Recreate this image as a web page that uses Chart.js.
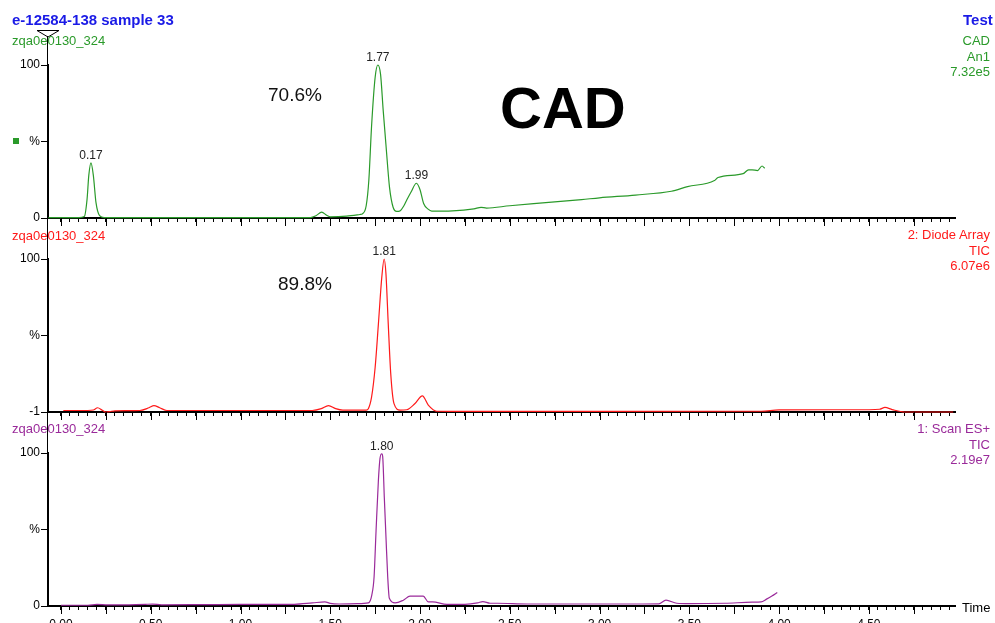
<!DOCTYPE html>
<html>
<head>
<meta charset="utf-8">
<script src="https://cdn.jsdelivr.net/npm/chart.js@4.4.1/dist/chart.umd.min.js"></script>
<style>
html, body { margin: 0; padding: 0; background: #fff; overflow: hidden; }
#wrap { position: relative; width: 995px; height: 623px; overflow: hidden; font-family: "Liberation Sans", Arial, sans-serif; }
canvas { position: absolute; left: 0; }
.t { position: absolute; white-space: nowrap; }
.r { text-align: right; }
</style>
</head>
<body>
<div id="wrap">
  <canvas id="cad" width="995" height="230" style="top:0px"></canvas>
  <canvas id="da" width="995" height="194" style="top:230px"></canvas>
  <canvas id="es" width="995" height="216" style="top:424px"></canvas>

  <div style="position:absolute;left:47px;top:36px;width:1px;height:570px;background:#000"></div>
  <svg style="position:absolute;left:0;top:0" width="80" height="45">
    <polygon points="37,30.5 59,30.5 48,37" fill="none" stroke="#000" stroke-width="1"/>
  </svg>
  <div style="position:absolute;left:13px;top:138px;width:6px;height:6px;background:#2a9a2a"></div>

  <div class="t" style="left:12px;top:11px;font:bold 15px 'Liberation Sans',Arial;color:#1a1ae6">e-12584-138 sample 33</div>
  <div class="t" style="left:963px;top:11px;font:bold 15px 'Liberation Sans',Arial;color:#1a1ae6">Test</div>

  <div class="t" style="left:12px;top:33px;font:13px 'Liberation Sans',Arial;color:#2a9a2a">zqa0e0130_324</div>
  <div class="t r" style="right:5px;top:33px;font:13px/15.5px 'Liberation Sans',Arial;color:#2a9a2a">CAD<br>An1<br>7.32e5</div>

  <div class="t" style="left:12px;top:228px;font:13px 'Liberation Sans',Arial;color:#ff1a1a">zqa0e0130_324</div>
  <div class="t r" style="right:5px;top:227px;font:13px/15.5px 'Liberation Sans',Arial;color:#ff1a1a">2: Diode Array<br>TIC<br>6.07e6</div>

  <div class="t" style="left:12px;top:421px;font:13px 'Liberation Sans',Arial;color:#9a2a9a">zqa0e0130_324</div>
  <div class="t r" style="right:5px;top:421px;font:13px/15.5px 'Liberation Sans',Arial;color:#9a2a9a">1: Scan ES+<br>TIC<br>2.19e7</div>

  <div class="t" style="left:268px;top:84px;font:19px 'Liberation Sans',Arial;color:#111">70.6%</div>
  <div class="t" style="left:278px;top:273px;font:19px 'Liberation Sans',Arial;color:#111">89.8%</div>
  <div class="t" style="left:500px;top:74px;font:bold 58px 'Liberation Sans',Arial;color:#000">CAD</div>

  <div class="t" style="left:962px;top:600px;font:13px 'Liberation Sans',Arial;color:#000">Time</div>
</div>
<script>
// CAD trace
const cadTime = [-0.07,0.10,0.13,0.145,0.155,0.167,0.18,0.195,0.215,0.24,1.39,1.42,1.452,1.48,1.50,1.59,1.665,1.68,1.70,1.715,1.73,1.75,1.765,1.78,1.795,1.81,1.83,1.85,1.87,1.89,1.91,1.925,1.95,1.98,2.00,2.02,2.045,2.065,2.18,2.30,2.34,2.37,2.50,2.70,2.90,3.00,3.20,3.40,3.49,3.64,3.66,3.80,3.83,3.85,3.88,3.905,3.92];
const cadValue = [0.3,0.3,1,12,28,36,28,10,1.5,0.3,0.3,1.5,3.8,1.8,0.8,1.2,2.3,2.8,8,25,60,92,100,94,70,48,20,7,4.3,4.8,8,11.5,17,22.7,18.5,9.5,5.8,4.5,4.7,6,7,6.5,8,10,12,13.2,15,17.5,20.5,24.5,26.5,29,31.5,31.5,31,34,32.5];
const cadPeakTime = [0.167, 1.765, 1.98];
const cadPeakHeight = [36, 100, 22.7];
const cadPeakLabel = ['0.17', '1.77', '1.99'];

// diode array trace
const daTime = [0.013,0.15,0.18,0.204,0.23,0.25,0.27,0.30,0.44,0.49,0.518,0.55,0.59,1.40,1.45,1.49,1.53,1.57,1.70,1.712,1.73,1.75,1.768,1.787,1.80,1.81,1.823,1.837,1.855,1.889,1.926,1.972,2.013,2.046,2.093,2.20,3.00,3.90,4.00,4.50,4.56,4.59,4.63,4.70,4.97];
const daValue = [0,0,0.3,1.8,0.2,-1,-0.8,-0.2,0,1.8,3.2,1.8,0,0,1.2,3.2,1.2,0.2,0.3,1.2,8.8,28.5,57,88,100,90.5,57,24,4.5,0.3,0.5,4.6,9.6,3.6,-0.5,-0.6,-0.6,-0.5,0.4,0.5,0.8,2,0.6,-1,-1];
const daPeakTime = [1.80];
const daPeakHeight = [100];
const daPeakLabel = ['1.81'];

// ES+ scan trace
const esTime = [0.00,0.15,0.20,0.25,0.30,0.47,0.51,0.56,0.80,1.00,1.30,1.40,1.47,1.50,1.55,1.65,1.712,1.731,1.744,1.755,1.768,1.777,1.787,1.792,1.801,1.811,1.82,1.829,1.861,1.907,1.944,2.018,2.046,2.07,2.15,2.25,2.32,2.35,2.39,2.43,2.60,2.80,3.00,3.20,3.33,3.37,3.43,3.50,3.70,3.85,3.90,3.93,3.96,3.99];
const esValue = [0.5,0.5,1,0.8,0.7,1.1,1.2,0.8,0.9,1,1.1,2,2.7,1.7,1.3,1.5,2,7,19,49,82,96.5,99.5,97.6,71,43,19,5,2,3.8,6.4,6.4,2.7,2.7,1.1,1.1,2,2.9,1.8,1.8,1.3,1.3,1.3,1.3,1.4,3.8,1.8,1.5,1.8,2.5,2.7,4.5,6.5,8.8];
const esPeakTime = [1.787];
const esPeakHeight = [99.5];
const esPeakLabel = ['1.80'];

// axes
const xTickValues = [0, 0.5, 1, 1.5, 2, 2.5, 3, 3.5, 4, 4.5];
const xTickLabels = ['0.00','0.50','1.00','1.50','2.00','2.50','3.00','3.50','4.00','4.50'];
const yTicksCad = [0, 50, 100];
const yTicksDa = [-1, 49.5, 100];
const yTicksEs = [0, 50, 100];
const yTickLabelsCad = ['0', '%', '100'];
const yTickLabelsDa = ['-1', '%', '100'];
const yTickLabelsEs = ['0', '%', '100'];

const X_MIN = -0.0724, X_MAX = 4.98;
const minorTicks = [];
for (let k = 0; k < 100; k++) minorTicks.push(Math.round(k * 5) / 100);
const longTicks = minorTicks.filter(v => Math.abs(v * 4 - Math.round(v * 4)) < 1e-6);

Chart.defaults.font.family = '"Liberation Sans", Arial, sans-serif';

const decor = {
  id: 'decor',
  afterDraw(chart, args, opts) {
    const ctx = chart.ctx;
    const x = chart.scales.x, y = chart.scales.y;
    ctx.save();
    ctx.strokeStyle = '#000';
    ctx.lineWidth = 1;
    longTicks.forEach(v => {
      const px = Math.round(x.getPixelForValue(v)) + 0.5;
      ctx.beginPath();
      ctx.moveTo(px, x.top);
      ctx.lineTo(px, x.top + 8);
      ctx.stroke();
    });
    ctx.fillStyle = '#222';
    ctx.font = '12px "Liberation Sans", Arial';
    ctx.textAlign = 'center';
    ctx.textBaseline = 'alphabetic';
    opts.times.forEach((t, i) => {
      ctx.fillText(opts.labels[i], x.getPixelForValue(t), y.getPixelForValue(opts.heights[i]) - 4);
    });
    ctx.restore();
  }
};

function panel(id, times, values, color, yMin, yMax, yTicks, yLabels, padTop, xHeight, showX, peaks) {
  return new Chart(document.getElementById(id), {
    type: 'line',
    data: {
      datasets: [{
        data: times.map((t, i) => ({x: t, y: values[i]})),
        borderColor: color,
        borderWidth: 1.2,
        pointRadius: 0,
        cubicInterpolationMode: 'monotone',
        fill: false,
        clip: false
      }]
    },
    options: {
      responsive: false,
      animation: false,
      events: [],
      layout: {padding: {left: 0, right: 40, top: padTop, bottom: 0}},
      plugins: {legend: {display: false}, tooltip: {enabled: false}, decor: peaks},
      scales: {
        x: {
          type: 'linear', min: X_MIN, max: X_MAX,
          afterBuildTicks: s => { s.ticks = minorTicks.map(v => ({value: v})); },
          afterFit: s => { s.height = xHeight; },
          grid: {drawOnChartArea: false, drawTicks: true, tickLength: 4, tickColor: '#000'},
          border: {display: true, color: '#000', width: 2},
          ticks: {
            display: showX, autoSkip: false, maxRotation: 0, padding: 7, color: '#000',
            font: {size: 12},
            callback: v => {
              const i = xTickValues.findIndex(a => Math.abs(a - v) < 1e-6);
              return i >= 0 ? xTickLabels[i] : '';
            }
          }
        },
        y: {
          min: yMin, max: yMax,
          afterBuildTicks: s => { s.ticks = yTicks.map(v => ({value: v})); },
          afterFit: s => { s.width = 48; },
          grid: {drawOnChartArea: false, drawTicks: true, tickLength: 7, tickColor: '#000'},
          border: {display: true, color: '#000', width: 2},
          ticks: {padding: 1, color: '#000', font: {size: 12}, callback: (v, i) => yLabels[i]}
        }
      }
    },
    plugins: [decor]
  });
}

panel('cad', cadTime, cadValue, '#2a9a2a', 0, 100, yTicksCad, yTickLabelsCad, 65, 12, false,
  {times: cadPeakTime, heights: cadPeakHeight, labels: cadPeakLabel});
panel('da', daTime, daValue, '#ff1a1a', -1, 100, yTicksDa, yTickLabelsDa, 29, 12, false,
  {times: daPeakTime, heights: daPeakHeight, labels: daPeakLabel});
panel('es', esTime, esValue, '#9a2a9a', 0, 100, yTicksEs, yTickLabelsEs, 29, 34, true,
  {times: esPeakTime, heights: esPeakHeight, labels: esPeakLabel});
</script>
</body>
</html>
